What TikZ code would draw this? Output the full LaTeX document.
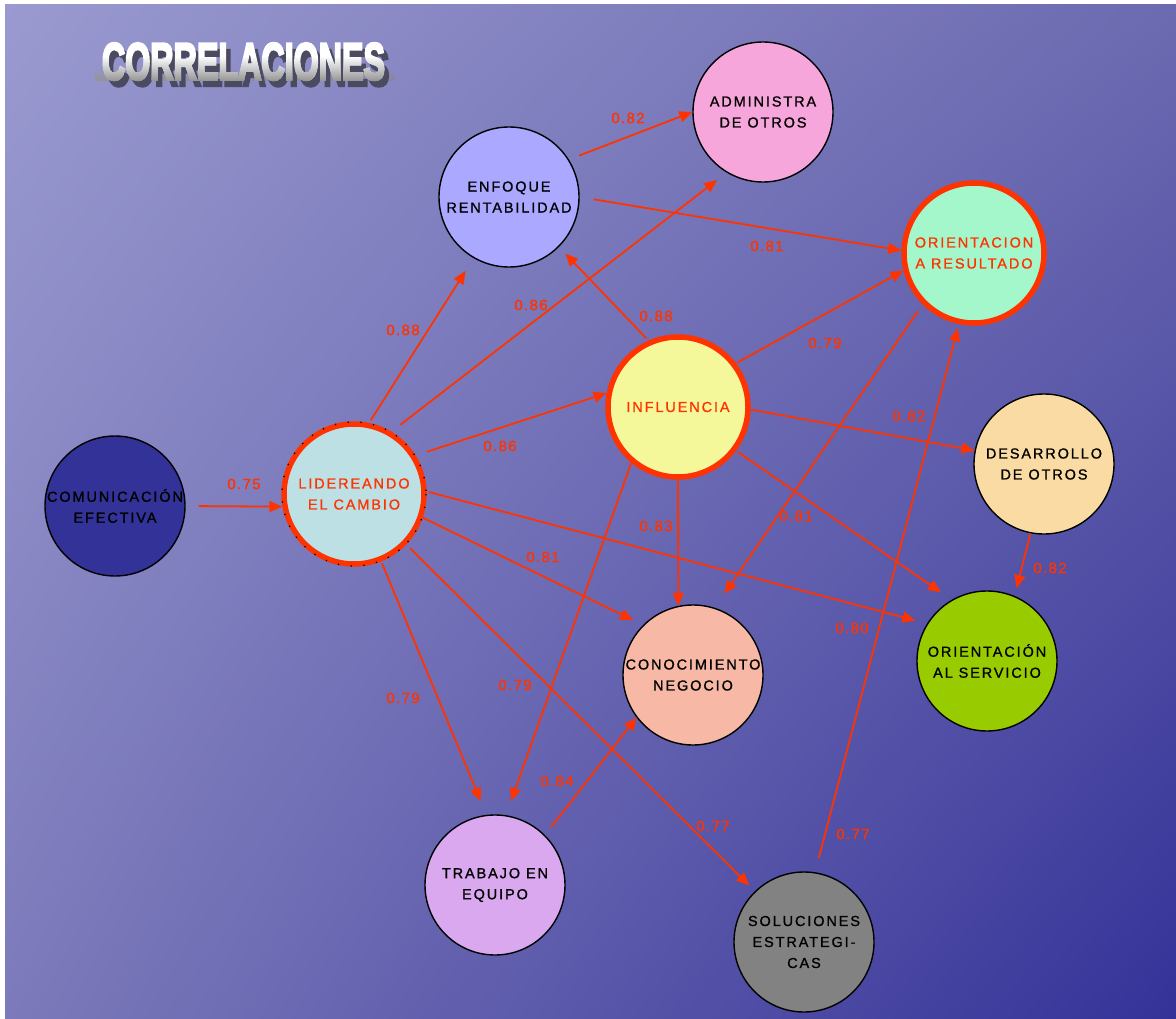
\documentclass[tikz,border=0pt]{standalone}
\usepackage{fontspec}
\setmainfont{Liberation Sans}
\newfontfamily\nodefont{Liberation Sans}[LetterSpace=13, FakeBold=1]
\newfontfamily\wtfont{Liberation Sans}[LetterSpace=9, FakeBold=1]
\newfontfamily\titlefont{Liberation Sans Bold}[FakeBold=5]
\usetikzlibrary{arrows.meta,shadings}

\definecolor{hotred}{RGB}{255,51,0}
\definecolor{bgUL}{RGB}{154,154,208}
\definecolor{bgUR}{RGB}{108,106,176}
\definecolor{bgLL}{RGB}{124,122,186}
\definecolor{bgLR}{RGB}{52,50,152}
\definecolor{ttlshadow}{RGB}{74,74,96}
\definecolor{cCom}{RGB}{50,50,152}
\definecolor{cLid}{RGB}{188,224,227}
\definecolor{cEnf}{RGB}{171,168,255}
\definecolor{cAdm}{RGB}{247,166,220}
\definecolor{cRes}{RGB}{163,247,203}
\definecolor{cInf}{RGB}{245,247,155}
\definecolor{cDes}{RGB}{250,219,163}
\definecolor{cSer}{RGB}{153,204,0}
\definecolor{cCon}{RGB}{247,184,166}
\definecolor{cTra}{RGB}{217,168,238}
\definecolor{cSol}{RGB}{130,130,130}

\tikzset{
  bubble/.style={circle, draw=black, line width=1.4pt, minimum size=140pt,
    inner sep=0pt, align=center, text=black,
    font=\nodefont\fontsize{14.5}{21}\selectfont},
  hot/.style={bubble, draw=hotred, line width=5.5pt, text=hotred},
  link/.style={draw=hotred, line width=1.8pt,
    -{Triangle[length=13pt,width=11pt]}},
  wt/.style={text=hotred, inner sep=0pt,
    font=\wtfont\fontsize{15}{18}\selectfont},
  heading/.style={inner sep=0pt, xscale=0.62,
    font=\titlefont\fontsize{52}{56}\selectfont},
}

\begin{document}
\begin{tikzpicture}[x=1pt, y=-1pt]
  \useasboundingbox (0,0) rectangle (1176,1019);
  % backdrop
  \fill[white] (0,0) rectangle (1176,1019);
  \shade[upper left=bgUL, upper right=bgUR, lower left=bgLL, lower right=bgLR]
    (5,5) rectangle (1176,1019);

  % heading: dark drop shadow, white lettering, darkened towards its foot
  \node[heading, text=ttlshadow] (ttlshadow) at (248,68) {CORRELACIONES};
  \node[heading, text=white] (ttl) at (243.5,61.5) {CORRELACIONES};
  \shade[blend mode=darken, top color=white, bottom color=black!42]
    (95,56) rectangle (395,81);

  % competences
  \node[bubble, fill=cCom] (com) at (115,506) {COMUNICACIÓN\\EFECTIVA};
  \node[hot, fill=cLid] (lid) at (354,494) {LIDEREANDO\\EL CAMBIO};
  \draw[black, line width=1.3pt, dash pattern=on 1.3pt off 11.5pt]
    (lid.center) circle[radius=72];
  \node[bubble, fill=cEnf] (enf) at (509,197) {ENFOQUE\\RENTABILIDAD};
  \node[bubble, fill=cAdm] (adm) at (763,112) {ADMINISTRA\\DE OTROS};
  \node[hot, fill=cRes] (res) at (974,253) {ORIENTACION\\A RESULTADO};
  \node[hot, fill=cInf] (inf) at (678,407) {INFLUENCIA};
  \node[bubble, fill=cDes] (des) at (1044,464) {DESARROLLO\\DE OTROS};
  \node[bubble, fill=cSer] (serv) at (987,661) {ORIENTACIÓN\\AL SERVICIO};
  \node[bubble, fill=cCon] (con) at (693,675) {CONOCIMIENTO\\NEGOCIO};
  \node[bubble, fill=cTra] (tra) at (495,885) {TRABAJO EN\\EQUIPO};
  \node[bubble, fill=cSol] (sol) at (804,942) {SOLUCIONES\\ESTRATEGI-\\CAS};

  % correlations
  \draw[link, shorten <=13pt] (com.0) -- (lid.190);
  \draw[link, shorten <=3pt, shorten >=15pt] (lid.78) -- (enf.240);
  \draw[link, shorten <=11pt, shorten >=12pt] (lid.59) -- (adm.239);
  \draw[link, shorten <=12pt] (lid.32) -- (inf.169);
  \draw[link, shorten <=2pt, shorten >=12pt] (lid.2) -- (serv.148);
  \draw[link, shorten >=11pt] (lid.-19) -- (con.135);
  \draw[link, shorten <=2pt, shorten >=15pt] (lid.-68) -- (tra.97);
  \draw[link, shorten <=5pt, shorten >=8pt] (lid.-44) -- (sol.134);
  \draw[link, shorten <=3pt, shorten >=9pt] (inf.114) -- (enf.-45);
  \draw[link, shorten <=1pt] (inf.37) -- (res.194);
  \draw[link] (inf.-2) -- (des.169);
  \draw[link, shorten <=2pt, shorten >=13pt] (inf.-37) -- (serv.120);
  \draw[link] (inf.270) -- (con.102);
  \draw[link, shorten >=15pt] (inf.230) -- (tra.81);
  \draw[link, shorten <=11pt] (enf.32) -- (adm.180);
  \draw[link, shorten <=14pt] (enf.0) -- (res.178);
  \draw[link, shorten <=8pt, shorten >=17pt] (res.225) -- (con.72);
  \draw[link, shorten >=8pt] (des.259) -- (serv.67);
  \draw[link, shorten <=10pt] (tra.45) -- (con.217);
  \draw[link, shorten <=15pt, shorten >=4pt] (sol.81) -- (res.258);

  % coefficients
  \node[wt] (w1) at (244,484) {0.75};
  \node[wt] (w2) at (403,330) {0.88};
  \node[wt] (w3) at (531,305) {0.86};
  \node[wt] (w4) at (500,446) {0.86};
  \node[wt] (w5) at (852,628) {0.80};
  \node[wt] (w6) at (543,557) {0.81};
  \node[wt] (w7) at (403,698) {0.79};
  \node[wt] (w8) at (713,826) {0.77};
  \node[wt] (w9) at (656,316) {0.88};
  \node[wt] (w10) at (825,343) {0.79};
  \node[wt] (w11) at (909,416) {0.82};
  \node[wt] (w12) at (796,516) {0.81};
  \node[wt] (w13) at (656,526) {0.83};
  \node[wt] (w14) at (515,685) {0.79};
  \node[wt] (w15) at (628,118) {0.82};
  \node[wt] (w16) at (767,246) {0.81};
  \node[wt] (w17) at (1050,568) {0.82};
  \node[wt] (w18) at (557,781) {0.84};
  \node[wt] (w19) at (853,834) {0.77};
\end{tikzpicture}
\end{document}
